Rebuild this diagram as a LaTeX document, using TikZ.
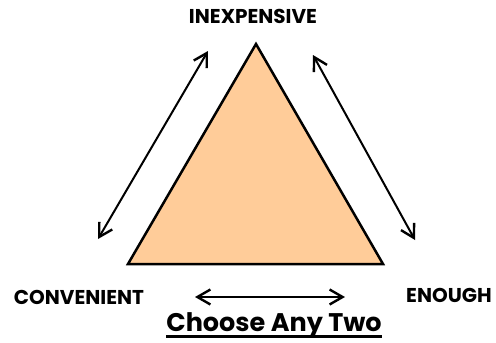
\documentclass[tikz,border=0pt]{standalone}
\usepackage{fontspec}
\setmainfont{Poppins}
\usetikzlibrary{arrows.meta,positioning}
\definecolor{peach}{HTML}{FFCC99}
\tikzset{
  lbl/.style={font=\fontsize{20}{22}\selectfont\bfseries,inner sep=0pt},
  ar/.style={{Straight Barb[length=13pt,width=15pt,line width=2.4pt]}-{Straight Barb[length=13pt,width=15pt,line width=2.4pt]},line width=2pt},
}
\begin{document}
\begin{tikzpicture}[x=1pt,y=-1pt]
\useasboundingbox (0,0) rectangle (496,343);
% the triangle
\coordinate (top) at (256,44);
\coordinate (bl) at (128,264);
\coordinate (br) at (383,264);
\draw[fill=peach,line width=2.5pt,line join=miter] (top)--(br)--(bl)--cycle;

% corner labels
\node[lbl] (cheap) at (253,16) {INEXPENSIVE};
\node[lbl] (conv) at (79,297) {CONVENIENT};
\node[lbl] (enough) at (449,295) {ENOUGH};
\node[font=\fontsize{25.5}{28}\selectfont\bfseries,inner sep=0pt] (pick) at (274,325) {Choose Any Two};
\draw[line width=2.8pt] ([yshift=-5.5pt]pick.base west)--([yshift=-5.5pt]pick.base east);

% trade-off arrows
\coordinate (l1) at (98,239);
\coordinate (l2) at (208,51);
\coordinate (r1) at (313,55);
\coordinate (r2) at (415,240);
\coordinate (b1) at (195,297);
\coordinate (b2) at (345,297);
\draw[ar] (l1)--(l2);
\draw[ar] (r1)--(r2);
\draw[ar] (b1)--(b2);
\end{tikzpicture}
\end{document}
